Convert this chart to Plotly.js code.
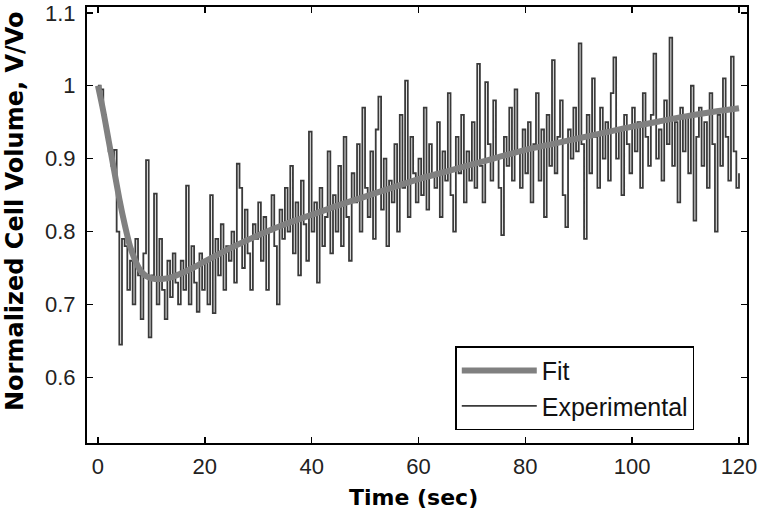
<!DOCTYPE html>
<html>
<head>
<meta charset="utf-8">
<script src="https://cdn.plot.ly/plotly-3.0.1.min.js"></script>
<style>
  html, body { margin: 0; padding: 0; background: #fff; }
  #chart { width: 765px; height: 514px; }
</style>
</head>
<body>
<div id="chart"></div>
<script>
// === Data: Fit curve ===
const fitTime = [0, 1, 2, 3, 4, 5, 6, 7, 8, 9, 10, 12, 14, 16, 18, 20, 25, 30, 35, 40,
  45, 50, 55, 60, 65, 70, 75, 80, 85, 90, 95, 100, 105, 110, 115, 120];
const fitVolume = [1.0, 0.965, 0.925, 0.885, 0.845, 0.81, 0.78, 0.76, 0.746, 0.739, 0.736,
  0.735, 0.738, 0.744, 0.751, 0.759, 0.778, 0.795, 0.81, 0.823, 0.836, 0.848, 0.86, 0.872,
  0.882, 0.892, 0.902, 0.912, 0.92, 0.928, 0.936, 0.944, 0.951, 0.958, 0.964, 0.969];

// === Data: Experimental trace, one sample every 0.5 s (0 .. 120 s) ===
const expStep = 0.5;
const expVolume = [
  1.0, 0.995, 0.96, 0.93, 0.91, 0.89, 0.912, 0.80, 0.645, 0.79,
  0.78, 0.72, 0.76, 0.70, 0.79, 0.74, 0.68, 0.77, 0.898, 0.655,
  0.74, 0.852, 0.70, 0.79, 0.72, 0.68, 0.76, 0.71, 0.77, 0.73,
  0.70, 0.76, 0.72, 0.863, 0.70, 0.78, 0.73, 0.69, 0.77, 0.72,
  0.76, 0.70, 0.85, 0.688, 0.79, 0.74, 0.81, 0.72, 0.78, 0.76,
  0.80, 0.73, 0.893, 0.86, 0.75, 0.83, 0.77, 0.72, 0.81, 0.79,
  0.84, 0.76, 0.82, 0.72, 0.80, 0.85, 0.78, 0.70, 0.83, 0.79,
  0.86, 0.80, 0.89, 0.77, 0.84, 0.74, 0.87, 0.81, 0.76, 0.937,
  0.80, 0.84, 0.73, 0.86, 0.78, 0.82, 0.91, 0.77, 0.85, 0.80,
  0.89, 0.78, 0.93, 0.82, 0.76, 0.88, 0.84, 0.92, 0.80, 0.97,
  0.86, 0.82, 0.91, 0.79, 0.94, 0.985, 0.83, 0.90, 0.78, 0.87,
  0.84, 0.92, 0.80, 0.96, 0.86, 1.007, 0.82, 0.93, 0.88, 0.84,
  0.90, 0.85, 0.97, 0.83, 0.92, 0.88, 0.86, 0.95, 0.82, 0.91,
  0.87, 0.99, 0.85, 0.80, 0.93, 0.88, 0.96, 0.84, 0.91, 0.87,
  0.95, 0.86, 1.03, 0.89, 0.84, 1.005, 0.92, 0.87, 0.98, 0.90,
  0.86, 0.795, 0.93, 0.89, 0.97, 0.87, 0.995, 0.91, 0.86, 0.94,
  0.88, 0.95, 0.84, 0.92, 0.99, 0.87, 0.94, 0.82, 0.96, 0.89,
  1.035, 0.88, 0.93, 0.98, 0.85, 0.806, 0.94, 0.90, 0.97, 0.91,
  1.058, 0.92, 0.79, 0.96, 0.88, 1.01, 0.93, 0.86, 0.97, 0.90,
  0.95, 0.87, 0.99, 1.039, 0.90, 0.94, 0.85, 0.96, 0.92, 0.88,
  0.97, 0.91, 0.95, 0.86, 0.99, 0.93, 0.89, 0.96, 1.044, 0.90,
  0.94, 0.87, 0.98, 0.92, 1.066, 0.89, 0.95, 0.84, 0.97, 0.91,
  0.96, 0.88, 1.0, 0.815, 0.93, 0.97, 0.89, 0.95, 0.86, 0.99,
  0.92, 0.80, 0.96, 0.89, 1.01, 0.93, 0.87, 1.04, 0.91, 0.86,
  0.88
];
const expTime = expVolume.map((v, i) => i * expStep);

// === Axis ticks ===
const xTicks = [0, 20, 40, 60, 80, 100, 120];
const yTicks = [0.6, 0.7, 0.8, 0.9, 1.0, 1.1];
const yTickText = ['0.6', '0.7', '0.8', '0.9', '1', '1.1'];

const tickFont = { family: 'Liberation Sans, Arial, sans-serif', size: 22, color: '#222' };

const expTrace = {
  x: expTime,
  y: expVolume,
  mode: 'lines',
  type: 'scatter',
  name: 'Experimental',
  legendrank: 2,
  line: { color: '#3a3a3a', width: 1.8, shape: 'hv' }
};

const fitTrace = {
  x: fitTime,
  y: fitVolume,
  mode: 'lines',
  type: 'scatter',
  name: 'Fit',
  legendrank: 1,
  line: { color: '#808080', width: 6, shape: 'spline', smoothing: 0.8 }
};

const axisCommon = {
  showline: true,
  linecolor: '#000',
  linewidth: 2,
  mirror: 'ticks',
  ticks: 'inside',
  ticklen: 6,
  tickwidth: 1.5,
  tickcolor: '#000',
  showgrid: false,
  zeroline: false,
  ticklabeloverflow: 'allow',
  tickfont: tickFont
};

const layout = {
  width: 765,
  height: 514,
  margin: { l: 87, r: 18, t: 7, b: 71 },
  paper_bgcolor: '#fff',
  plot_bgcolor: '#fff',
  showlegend: true,
  xaxis: Object.assign({}, axisCommon, {
    range: [-2.05, 121.5],
    tickvals: xTicks,
    ticklabelstandoff: 3
  }),
  yaxis: Object.assign({}, axisCommon, {
    range: [0.51, 1.108],
    tickvals: yTicks,
    ticktext: yTickText,
    ticklabelstandoff: 5
  }),
  legend: {
    x: 0.558,
    y: 0.222,
    xanchor: 'left',
    yanchor: 'top',
    bgcolor: '#fff',
    bordercolor: '#000',
    borderwidth: 1.5,
    itemwidth: 75,
    tracegroupgap: 0,
    font: { family: 'Liberation Sans, Arial, sans-serif', size: 25, color: '#111' }
  },
  annotations: [
    {
      text: '<b>Time (sec)</b>',
      xref: 'paper', yref: 'paper',
      x: 0.495, y: -0.125,
      xanchor: 'center', yanchor: 'middle',
      showarrow: false,
      font: { family: 'DejaVu Sans, sans-serif', size: 22, color: '#000' }
    },
    {
      text: '<b>Normalized Cell Volume, V/Vo</b>',
      xref: 'paper', yref: 'paper',
      x: -0.109, y: 0.53,
      xanchor: 'center', yanchor: 'middle',
      textangle: -90,
      showarrow: false,
      font: { family: 'DejaVu Sans, sans-serif', size: 24, color: '#000' }
    }
  ]
};

Plotly.newPlot('chart', [expTrace, fitTrace], layout, { displayModeBar: false, staticPlot: true });
</script>
</body>
</html>
